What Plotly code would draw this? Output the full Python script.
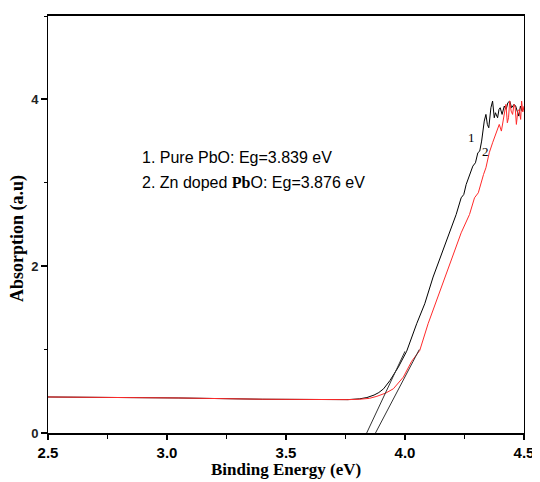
import plotly.graph_objects as go

# Curve 1: Pure PbO (black)
black_x = [2.50, 2.80, 3.05, 3.40, 3.60, 3.76, 3.81, 3.84, 3.87, 3.89,
           3.91, 3.937, 3.972, 4.007, 4.049, 4.083, 4.118, 4.153, 4.187, 4.215,
           4.236, 4.247, 4.257, 4.264, 4.278, 4.285, 4.296, 4.306, 4.314, 4.322,
           4.333, 4.340, 4.346, 4.352, 4.361, 4.368, 4.375, 4.380, 4.389, 4.395,
           4.400, 4.408, 4.417, 4.425, 4.432, 4.440, 4.448, 4.458, 4.465, 4.470,
           4.478, 4.485, 4.492, 4.500]
black_y = [0.432, 0.428, 0.420, 0.405, 0.400, 0.400, 0.410, 0.425, 0.455, 0.485,
           0.530, 0.630, 0.790, 0.980, 1.310, 1.550, 1.870, 2.150, 2.420, 2.620,
           2.820, 2.860, 2.980, 3.040, 3.140, 3.200, 3.240, 3.360, 3.380, 3.500,
           3.740, 3.820, 3.700, 3.660, 3.900, 3.980, 3.780, 3.840, 3.780, 3.880,
           3.900, 3.820, 3.920, 3.880, 3.960, 3.980, 3.900, 3.940, 3.920, 3.880,
           3.800, 3.920, 3.860, 3.900]

# Curve 2: Zn doped PbO (red)
red_x = [2.50, 2.80, 3.05, 3.40, 3.60, 3.76, 3.81, 3.85, 3.882, 3.92,
         3.951, 3.993, 4.028, 4.062, 4.097, 4.132, 4.167, 4.202, 4.236, 4.271,
         4.292, 4.308, 4.320, 4.330, 4.340, 4.354, 4.368, 4.382, 4.396, 4.405,
         4.417, 4.424, 4.430, 4.435, 4.440, 4.446, 4.452, 4.458, 4.463, 4.468,
         4.474, 4.480, 4.486, 4.490, 4.495, 4.500]
red_y = [0.432, 0.428, 0.420, 0.405, 0.400, 0.400, 0.405, 0.415, 0.440, 0.480,
         0.530, 0.670, 0.860, 0.990, 1.310, 1.590, 1.870, 2.150, 2.400, 2.620,
         2.820, 2.880, 3.020, 3.100, 3.180, 3.360, 3.480, 3.600, 3.700, 3.620,
         3.820, 3.940, 3.720, 3.780, 3.980, 3.860, 3.820, 3.940, 3.900, 3.700,
         3.860, 3.880, 3.760, 3.980, 3.850, 3.920]

# Tangent (band-gap extrapolation) lines
tan_black_x = [3.839, 4.00]
tan_black_y = [0.0, 0.98]
tan_red_x = [3.876, 4.06]
tan_red_y = [0.0, 1.00]

x_ticks = [2.5, 3.0, 3.5, 4.0, 4.5]
x_tick_labels = ["2.5", "3.0", "3.5", "4.0", "4.5"]
y_ticks = [0, 2, 4]
y_tick_labels = ["0", "2", "4"]

legend_lines = ["1. Pure PbO: Eg=3.839 eV",
                "2. Zn doped <span style='font-family:Liberation Serif, Times New Roman, serif;font-weight:bold'>Pb</span>O: Eg=3.876 eV"]

SANS = "Arial, Liberation Sans, sans-serif"
SERIF = "Times New Roman, Liberation Serif, serif"

fig = go.Figure()
fig.add_trace(go.Scatter(x=black_x, y=black_y, mode="lines",
                         line=dict(color="black", width=1), showlegend=False))
fig.add_trace(go.Scatter(x=red_x, y=red_y, mode="lines",
                         line=dict(color="#ff2a2a", width=1), showlegend=False))
fig.add_trace(go.Scatter(x=tan_black_x, y=tan_black_y, mode="lines",
                         line=dict(color="#333333", width=1), showlegend=False))
fig.add_trace(go.Scatter(x=tan_red_x, y=tan_red_y, mode="lines",
                         line=dict(color="#333333", width=1), showlegend=False))

annotations = [
    dict(x=2.888, y=3.30, xref="x", yref="y", text=legend_lines[0], showarrow=False,
         xanchor="left", yanchor="middle", font=dict(family=SANS, size=16, color="black")),
    dict(x=2.888, y=3.00, xref="x", yref="y", text=legend_lines[1], showarrow=False,
         xanchor="left", yanchor="middle", font=dict(family=SANS, size=16, color="black")),
    dict(x=4.278, y=3.54, xref="x", yref="y", text="1", showarrow=False,
         font=dict(family=SERIF, size=13, color="black")),
    dict(x=4.337, y=3.38, xref="x", yref="y", text="2", showarrow=False,
         font=dict(family=SERIF, size=13, color="black")),
    dict(x=0.5, y=0, xref="paper", yref="paper", text="<b>Binding Energy (eV)</b>",
         showarrow=False, yanchor="middle", yshift=-36,
         font=dict(family=SERIF, size=17, color="black")),
    dict(x=0, y=0.5, xref="paper", yref="paper", text="<b>Absorption (a.u)</b>",
         showarrow=False, textangle=-90, xanchor="center", yanchor="middle",
         xshift=-30.5, yshift=-14, font=dict(family=SERIF, size=18, color="black")),
]

# The page body adds an 8px offset, so the figure is sized/margined to compensate.
fig.update_layout(
    width=532, height=474,
    margin=dict(l=40, r=12, t=6, b=49),
    paper_bgcolor="white", plot_bgcolor="white",
    annotations=annotations,
    showlegend=False,
)
fig.update_xaxes(
    range=[2.5, 4.5], tickvals=x_ticks, ticktext=x_tick_labels,
    ticks="outside", ticklen=5, tickwidth=1.5, tickcolor="black",
    showline=True, linecolor="black", linewidth=2, mirror=True,
    showgrid=False, zeroline=False,
    tickfont=dict(family=SANS, size=15, color="black", weight="bold"),
    minor=dict(dtick=0.25, tick0=2.5, ticks="outside", ticklen=4, tickcolor="black", tickwidth=1),
)
fig.update_yaxes(
    range=[0, 5], tickvals=y_ticks, ticktext=y_tick_labels,
    ticks="outside", ticklen=6, tickwidth=1.5, tickcolor="black",
    showline=True, linecolor="black", linewidth=1, mirror=True,
    showgrid=False, zeroline=False,
    tickfont=dict(family=SANS, size=13, color="#222222", weight="bold"),
    minor=dict(dtick=1, tick0=0, ticks="outside", ticklen=3, tickcolor="black", tickwidth=1),
)

fig.write_html("out.html")
